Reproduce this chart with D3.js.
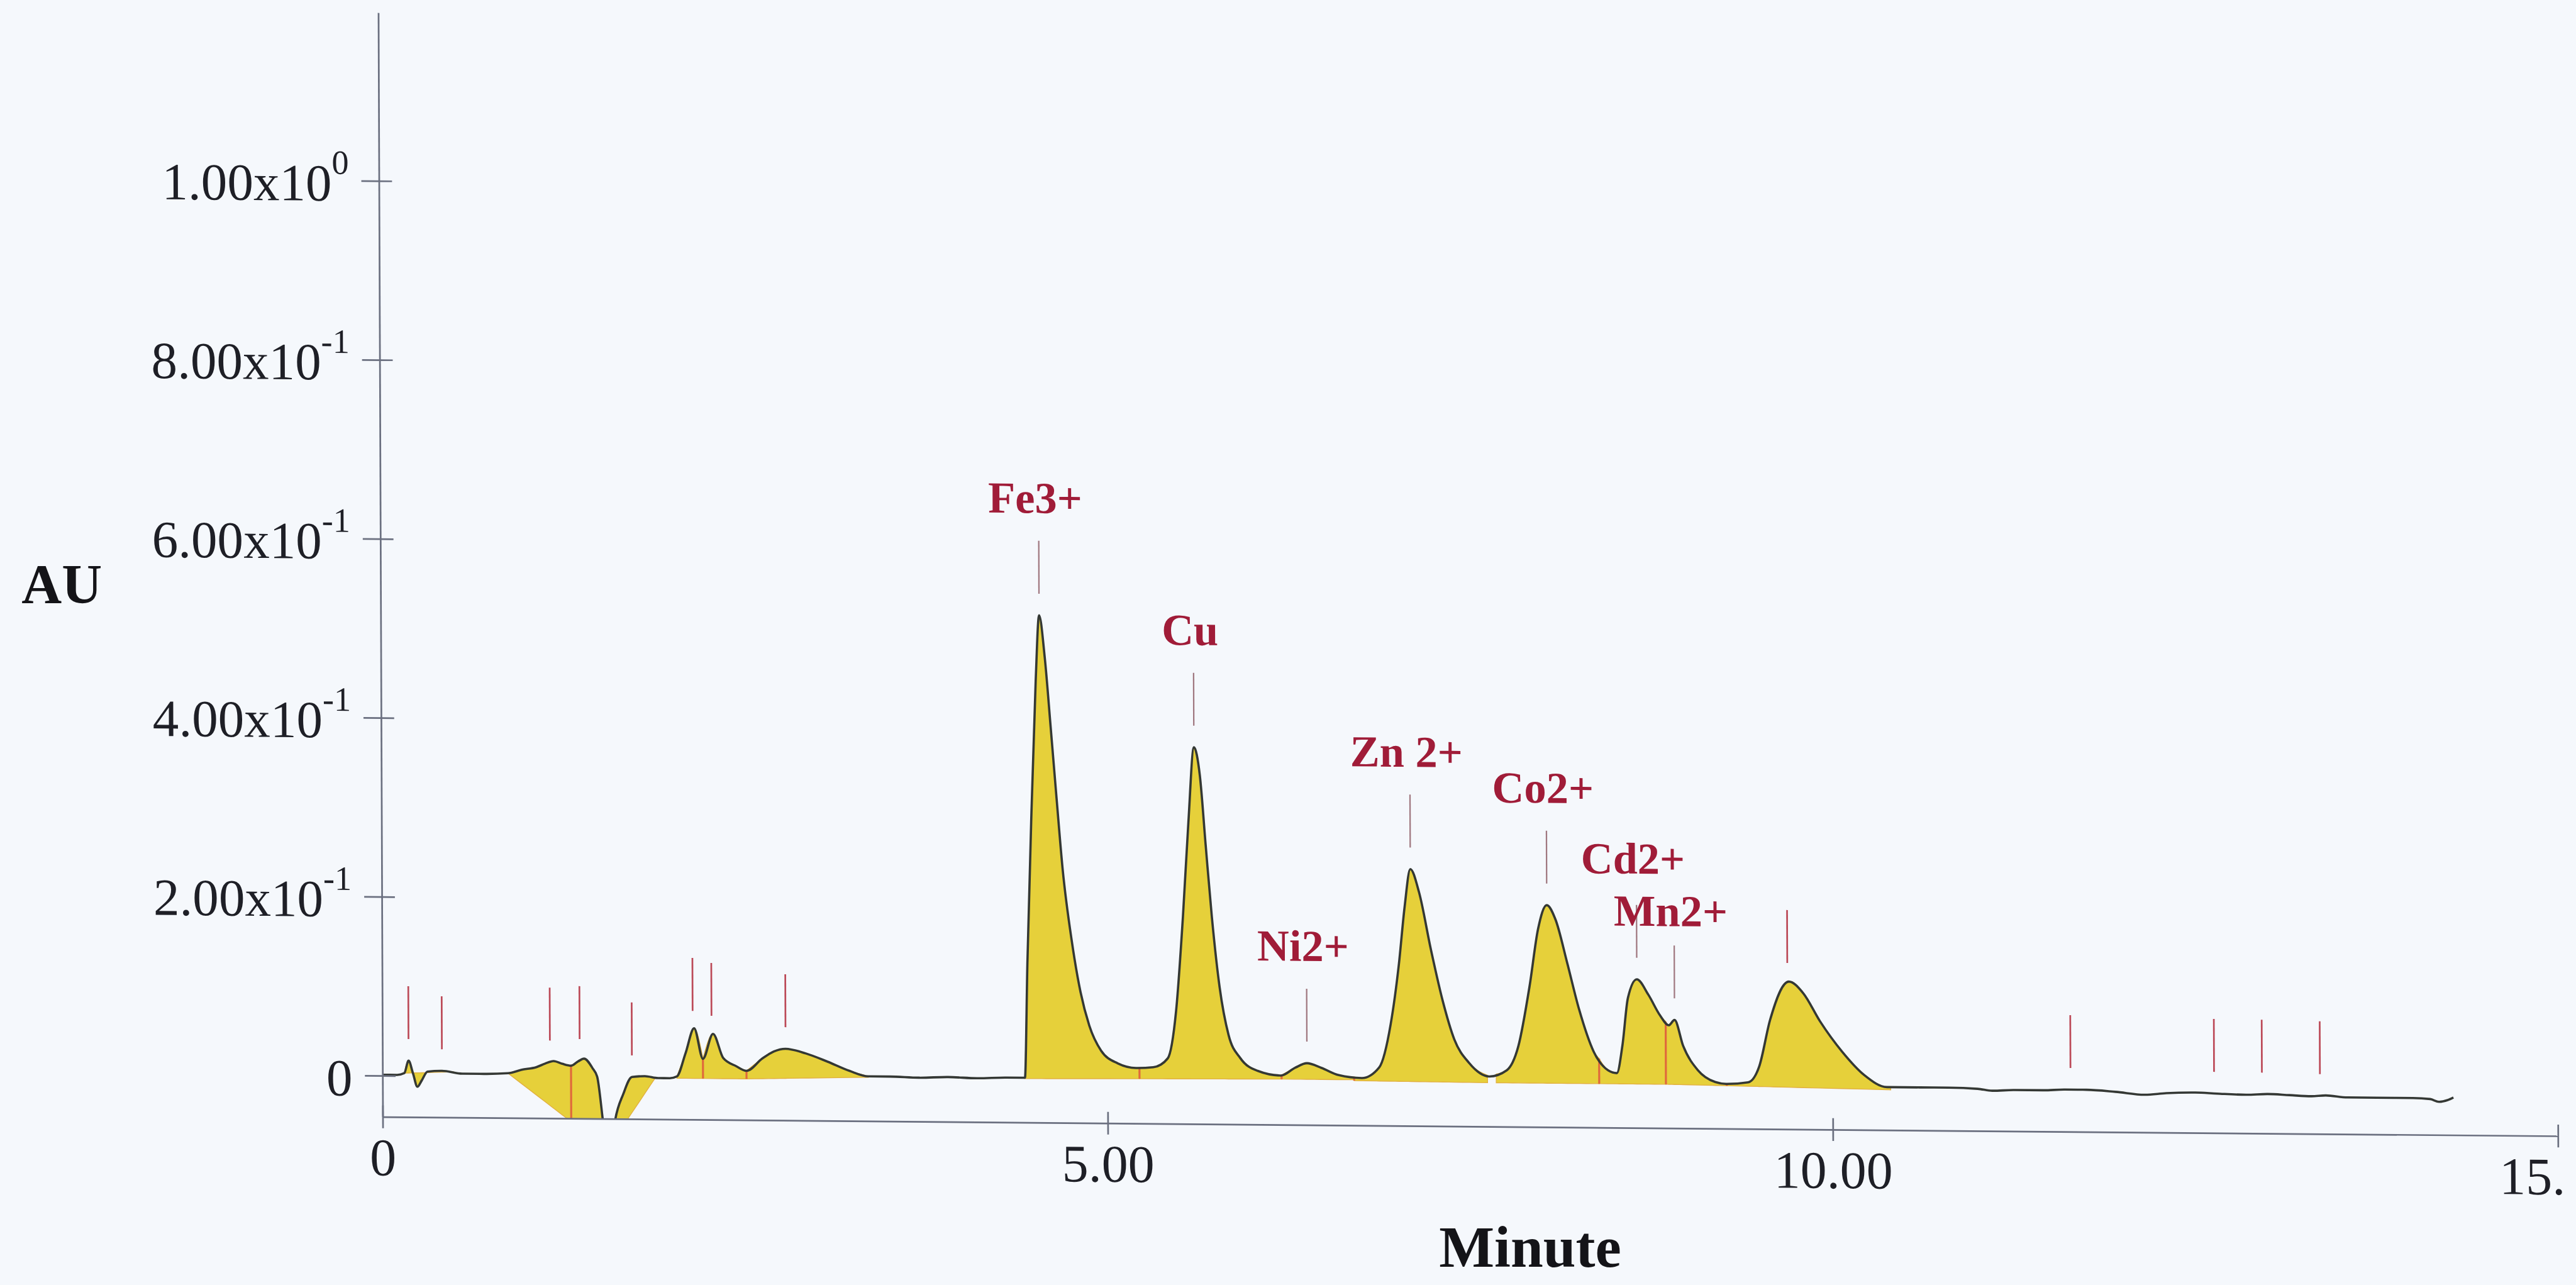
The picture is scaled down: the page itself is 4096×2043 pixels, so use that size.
<!DOCTYPE html>
<html>
<head>
<meta charset="utf-8">
<script src="https://cdn.jsdelivr.net/npm/d3@7"></script>
<style>
  html, body { margin: 0; padding: 0; background: #f5f8fc; overflow: hidden; }
  svg { display: block; }
</style>
</head>
<body>
<svg id="chart"></svg>
<script>
// Chromatogram of heavy metal ions -- AU vs retention time

// trace (minutes, AU)
var times = [0.00, 0.10, 0.15, 0.18, 0.21, 0.24, 0.27, 0.31, 0.41, 0.55, 0.70, 0.865,
  0.96, 1.06, 1.12, 1.18, 1.24, 1.30, 1.35, 1.39, 1.45, 1.48, 1.52, 1.56, 1.60, 1.66,
  1.72, 1.81, 1.90, 1.98, 2.03, 2.09, 2.15, 2.21, 2.28, 2.35, 2.44, 2.51, 2.62, 2.70,
  2.78, 2.92, 3.07, 3.22, 3.35, 3.50, 3.70, 3.90, 4.10, 4.30, 4.43,
  4.45, 4.48, 4.515, 4.54, 4.578, 4.617, 4.656, 4.696, 4.756, 4.816, 4.875, 4.956,
  5.07, 5.196, 5.315, 5.415,
  5.474, 5.524, 5.564, 5.604, 5.644, 5.683, 5.723, 5.775, 5.835, 5.916, 6.035, 6.195,
  6.295, 6.375, 6.474, 6.594, 6.753,
  6.873, 6.953, 7.012, 7.053, 7.093, 7.153, 7.232, 7.313, 7.392, 7.493, 7.632,
  7.752, 7.833, 7.913, 7.972, 8.033, 8.093, 8.172, 8.253, 8.352, 8.452, 8.512,
  8.551, 8.59, 8.652, 8.731, 8.811, 8.871, 8.911, 8.970, 9.071, 9.19,
  9.264, 9.417, 9.494, 9.57, 9.70, 9.80, 9.914, 10.067, 10.22, 10.374,
  10.60, 10.80, 11.00, 11.10, 11.25, 11.45, 11.60, 11.75, 11.95, 12.15, 12.30, 12.50,
  12.65, 12.85, 13.00, 13.15, 13.30, 13.40, 13.55, 13.75, 14.00, 14.12, 14.18, 14.24, 14.28];

var values = [0.001, 0.001, 0.003, 0.017, 0.003, -0.012, -0.005, 0.005, 0.006, 0.003, 0.003, 0.004,
  0.008, 0.011, 0.015, 0.018, 0.015, 0.013, 0.018, 0.021, 0.010, 0.001, -0.050, -0.100, -0.050, -0.018,
  0.001, 0.002, 0.000, 0.000, 0.002, 0.028, 0.056, 0.022, 0.050, 0.023, 0.014, 0.009, 0.023, 0.031,
  0.034, 0.029, 0.020, 0.010, 0.004, 0.004, 0.003, 0.004, 0.003, 0.004, 0.004,
  0.132, 0.290, 0.448, 0.521, 0.474, 0.396, 0.316, 0.237, 0.158, 0.100, 0.063, 0.035,
  0.021, 0.016, 0.017, 0.027,
  0.080, 0.186, 0.291, 0.375, 0.344, 0.265, 0.186, 0.107, 0.054, 0.028, 0.014, 0.009,
  0.018, 0.023, 0.018, 0.010, 0.007,
  0.019, 0.067, 0.135, 0.199, 0.241, 0.215, 0.152, 0.094, 0.051, 0.025, 0.010,
  0.017, 0.044, 0.112, 0.175, 0.202, 0.186, 0.138, 0.086, 0.039, 0.018, 0.015,
  0.046, 0.099, 0.120, 0.103, 0.080, 0.069, 0.075, 0.046, 0.019, 0.006,
  0.004, 0.006, 0.024, 0.076, 0.119, 0.106, 0.075, 0.041, 0.015, 0.002,
  0.002, 0.002, 0.001, -0.001, 0.000, 0.000, 0.001, 0.001, -0.001, -0.004, -0.002, -0.001,
  -0.002, -0.003, -0.002, -0.003, -0.004, -0.003, -0.005, -0.005, -0.005, -0.006, -0.009, -0.007, -0.004];

// integrated areas: window and baseline level at each end
var segStart = [0.15, 0.865, 1.30, 1.52, 2.03, 2.21, 2.51, 4.43, 5.22, 6.20, 6.70, 7.68, 8.39, 8.85, 9.27];
var segEnd   = [0.49, 1.30, 1.52, 1.88, 2.21, 2.51, 3.35, 5.22, 6.20, 6.70, 7.62, 8.39, 8.85, 9.27, 10.40];
var segBase0 = [0.003, 0.004, -0.0497, -0.087, 0.000, 0.000, 0.000, 0.003, 0.004, 0.005, 0.004, 0.003, 0.003, 0.003, 0.002];
var segBase1 = [0.005, -0.0497, -0.0769, 0.000, 0.000, 0.000, 0.003, 0.004, 0.005, 0.005, 0.003, 0.003, 0.003, 0.002, -0.001];

// drop lines between neighbouring areas
var dropTimes = [1.30, 2.21, 2.51, 5.22, 6.20, 6.70, 8.39, 8.85, 9.27];

// named peaks
var ionLabels = ["Fe3+", "Cu", "Ni2+", "Zn 2+", "Co2+", "Cd2+", "Mn2+"];
var ionTimes = [4.54, 5.604, 6.375, 7.093, 8.033, 8.652, 8.911];

// other detected peaks (marks only)
var markTimes = [0.18, 0.41, 1.155, 1.36, 1.72, 2.14, 2.27, 2.78, 9.69, 11.64, 12.63, 12.96, 13.36];

var xTicks = [0, 5, 10, 15];
var xTickText = ["0", "5.00", "10.00", "15."];
var yTicks = [0, 0.2, 0.4, 0.6, 0.8, 1.0];
var yTickMant = ["0", "2.00x10", "4.00x10", "6.00x10", "8.00x10", "1.00x10"];
var yTickExp = ["", "-1", "-1", "-1", "-1", "0"];

var yMin = -0.046, yMax = 1.188;

///////////////////////////////////////////////////////////////////////////////
// Setup

var W = 4532, H = 2260;
var serif = "'Liberation Serif', 'Times New Roman', serif";

var svg = d3.select("#chart")
  .attr("width", 4096).attr("height", 2043)
  .attr("viewBox", "0 0 " + W + " " + H);

svg.append("rect").attr("width", W).attr("height", H).attr("fill", "#f5f8fc");

var x = d3.scaleLinear().domain([0, 15]).range([673, 4500]);
var y = d3.scaleLinear().domain([yMin, yMax]).range([1892 - yMin * 1574, 1892 - yMax * 1574]);

// the scanned page is a little sheared, follow it around the origin
var g = svg.append("g")
  .attr("transform", "translate(673,1892) matrix(1,0.0088,0.004,1,0,0) translate(-673,-1892)");

g.append("clipPath").attr("id", "plotClip")
  .append("rect")
  .attr("x", x(0)).attr("y", y(yMax))
  .attr("width", x(15) - x(0)).attr("height", y(yMin) - y(yMax));

var pts = times.map(function (t, i) { return [t, values[i]]; });

var bisect = d3.bisector(function (p) { return p[0]; }).left;
var valueAt = function (t) {
  var i = bisect(pts, t);
  if (i <= 0) return pts[0][1];
  if (i >= pts.length) return pts[pts.length - 1][1];
  var a = pts[i - 1], b = pts[i];
  if (b[0] === t) return b[1];
  return a[1] + (b[1] - a[1]) * (t - a[0]) / (b[0] - a[0]);
};

///////////////////////////////////////////////////////////////////////////////
// Integrated areas

var plot = g.append("g").attr("clip-path", "url(#plotClip)");

var area = d3.area()
  .x(function (d) { return x(d[0]); })
  .y0(function (d) { return y(d[2]); })
  .y1(function (d) { return y(d[1]); })
  .curve(d3.curveMonotoneX);

segStart.forEach(function (t0, i) {
  var t1 = segEnd[i];
  var base = function (t) { return segBase0[i] + (segBase1[i] - segBase0[i]) * (t - t0) / (t1 - t0); };
  var seg = [[t0, valueAt(t0), base(t0)]];
  pts.forEach(function (p) {
    if (p[0] > t0 && p[0] < t1) seg.push([p[0], p[1], base(p[0])]);
  });
  seg.push([t1, valueAt(t1), base(t1)]);
  plot.append("path")
    .attr("d", area(seg))
    .attr("fill", "#e6d03a")
    .attr("stroke", "#e2b040")
    .attr("stroke-width", 1.5);
});

dropTimes.forEach(function (t) {
  var i = segStart.indexOf(t);
  plot.append("line")
    .attr("x1", x(t)).attr("x2", x(t))
    .attr("y1", y(segBase0[i])).attr("y2", y(valueAt(t)))
    .attr("stroke", "#e0683c")
    .attr("stroke-width", 3.5);
});

// the trace itself
var line = d3.line()
  .x(function (d) { return x(d[0]); })
  .y(function (d) { return y(d[1]); })
  .curve(d3.curveMonotoneX);

plot.append("path")
  .attr("d", line(pts))
  .attr("fill", "none")
  .attr("stroke", "#343834")
  .attr("stroke-width", 4)
  .attr("stroke-linejoin", "round");

///////////////////////////////////////////////////////////////////////////////
// Peak marks and names

var markGap = 38, markLen = 93, nameGap = 180;
// Cd/Mn names sit close together, nudge them apart like the original
var nameLift = { "Cd2+": 186, "Mn2+": 165 };

g.selectAll("line.mark")
  .data(markTimes)
  .enter().append("line")
  .attr("class", "mark")
  .attr("x1", function (t) { return x(t); })
  .attr("x2", function (t) { return x(t); })
  .attr("y1", function (t) { return y(valueAt(t)) - markGap; })
  .attr("y2", function (t) { return y(valueAt(t)) - markGap - markLen; })
  .attr("stroke", "#bc4a58")
  .attr("stroke-width", 3);

g.selectAll("line.ionmark")
  .data(ionTimes)
  .enter().append("line")
  .attr("class", "ionmark")
  .attr("x1", function (t) { return x(t); })
  .attr("x2", function (t) { return x(t); })
  .attr("y1", function (t) { return y(valueAt(t)) - markGap; })
  .attr("y2", function (t) { return y(valueAt(t)) - markGap - markLen; })
  .attr("stroke", "#a07880")
  .attr("stroke-width", 2.5);

g.selectAll("text.ion")
  .data(ionTimes)
  .enter().append("text")
  .attr("class", "ion")
  .attr("x", function (t) { return x(t) - 6; })
  .attr("y", function (t, i) { return y(valueAt(t)) - (nameLift[ionLabels[i]] || nameGap); })
  .attr("text-anchor", "middle")
  .attr("font-family", serif)
  .attr("font-weight", "bold")
  .attr("font-size", 78)
  .attr("fill", "#a01c38")
  .text(function (t, i) { return ionLabels[i]; });

///////////////////////////////////////////////////////////////////////////////
// Axes

var axisColor = "#6b7080";

var yAxis = g.append("g")
  .attr("transform", "translate(" + x(0) + ",0)")
  .call(d3.axisLeft(y).tickValues(yTicks).tickSizeInner(31).tickSizeOuter(0).tickFormat(""));

yAxis.selectAll(".tick").append("line").attr("x2", 23);

yAxis.selectAll(".tick").append("text")
  .attr("x", -53).attr("y", 35).attr("dy", 0)
  .attr("text-anchor", "end")
  .attr("font-family", serif)
  .attr("font-size", 92)
  .attr("fill", "#1e1f26")
  .each(function (d, i) {
    var t = d3.select(this);
    t.append("tspan").text(yTickMant[i]);
    if (yTickExp[i]) t.append("tspan").attr("dy", -47).attr("font-size", 60).text(yTickExp[i]);
  });

var xAxis = g.append("g")
  .attr("transform", "translate(0," + y(yMin) + ")")
  .call(d3.axisBottom(x).tickValues(xTicks).tickSizeInner(20).tickSizeOuter(0)
    .tickFormat(function (d, i) { return xTickText[i]; }));

xAxis.selectAll(".tick").append("line").attr("y2", -20);

xAxis.selectAll(".tick text")
  .attr("y", 103).attr("dy", 0)
  .attr("font-family", serif)
  .attr("font-size", 93)
  .attr("fill", "#1e1f26")
  .attr("text-anchor", function (d) { return d === 15 ? "start" : "middle"; })
  .attr("x", function (d) { return d === 15 ? -104 : 0; });

[yAxis, xAxis].forEach(function (a) {
  a.select(".domain").attr("stroke", axisColor).attr("stroke-width", 3);
  a.selectAll(".tick line").attr("stroke", axisColor).attr("stroke-width", 3);
});

// axis titles
svg.append("text")
  .attr("x", 38).attr("y", 1060)
  .attr("font-family", serif).attr("font-weight", "bold").attr("font-size", 98)
  .attr("fill", "#141418")
  .text("AU");

svg.append("text")
  .attr("x", 2692).attr("y", 2228)
  .attr("text-anchor", "middle")
  .attr("font-family", serif).attr("font-weight", "bold").attr("font-size", 103)
  .attr("fill", "#141418")
  .text("Minute");
</script>
</body>
</html>
